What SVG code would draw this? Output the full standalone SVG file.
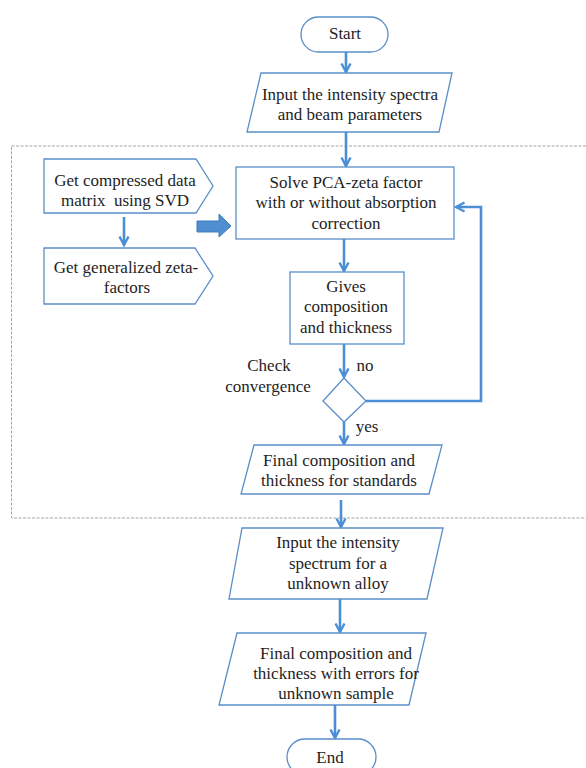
<svg xmlns="http://www.w3.org/2000/svg" width="586" height="768" viewBox="0 0 586 768">
<style>
  .box { fill: #ffffff; stroke: #5b8ec9; stroke-width: 1.3; }
  .t { font-family: 'Liberation Serif', 'DejaVu Serif', serif; font-size: 17px; fill: #1e1e1e; text-anchor: middle; }
  .c { fill: none; stroke: #4a8fd6; stroke-width: 2.6; }
  .dash { fill: none; stroke: #a3a3a3; stroke-width: 1; stroke-dasharray: 3 1.5; }
</style>
<defs>
  <marker id="ah" viewBox="0 0 12 12" refX="10" refY="6" markerWidth="12" markerHeight="12" markerUnits="userSpaceOnUse" orient="auto">
    <path d="M1.5,1.5 L10,6 L1.5,10.5" fill="none" stroke="#4a8fd6" stroke-width="2.4" stroke-linejoin="miter"/>
  </marker>
</defs>
<rect width="586" height="768" fill="#ffffff"/>

<rect class="dash" x="11.5" y="146" width="620" height="372"/>

<g id="connectors">
  <line class="c" x1="346" y1="52" x2="346" y2="72" marker-end="url(#ah)"/>
  <line class="c" x1="346" y1="132" x2="346" y2="166" marker-end="url(#ah)"/>
  <line class="c" x1="124" y1="217" x2="124" y2="245" marker-end="url(#ah)"/>
  <line class="c" x1="344" y1="239" x2="344" y2="271" marker-end="url(#ah)"/>
  <line class="c" x1="344" y1="344" x2="344" y2="377" marker-end="url(#ah)"/>
  <polyline class="c" points="366,401 481,401 481,207 456,207" stroke-width="3" marker-end="url(#ah)"/>
  <line class="c" x1="344" y1="422" x2="344" y2="444" marker-end="url(#ah)"/>
  <line class="c" x1="341" y1="500" x2="341" y2="527" marker-end="url(#ah)"/>
  <line class="c" x1="340" y1="599" x2="340" y2="632" marker-end="url(#ah)"/>
  <line class="c" x1="335" y1="705" x2="335" y2="738" marker-end="url(#ah)"/>
  <polygon points="197,221 219,221 219,214 231,226 219,237 219,232 197,232" fill="#4f8fd0" stroke="#3f7dbf" stroke-width="1"/>
</g>

<g id="start">
  <rect class="box" x="301" y="17" width="87" height="35" rx="17.5"/>
  <text class="t" x="345" y="39" font-family="Liberation Serif">Start</text>
</g>

<g id="input">
  <polygon class="box" points="261,73 452,73 439,132 247,132"/>
  <text class="t" x="350" y="100">Input the intensity spectra</text>
  <text class="t" x="350" y="120">and beam parameters</text>
</g>

<g id="svd">
  <polygon class="box" points="44,159 196,159 213,186 196,213 44,213"/>
  <text class="t" x="125" y="186">Get compressed data</text>
  <text class="t" x="125" y="206" xml:space="preserve">matrix  using SVD</text>
</g>

<g id="zeta">
  <polygon class="box" points="44,248 195,248 213,276 195,304 44,304"/>
  <text class="t" x="126" y="273">Get generalized zeta-</text>
  <text class="t" x="127" y="293">factors</text>
</g>

<g id="solve">
  <rect class="box" x="236" y="167" width="218" height="72"/>
  <text class="t" x="346" y="188">Solve PCA-zeta factor</text>
  <text class="t" x="346" y="208">with or without absorption</text>
  <text class="t" x="346" y="229">correction</text>
</g>

<g id="gives">
  <rect class="box" x="290" y="272" width="114" height="72"/>
  <text class="t" x="346" y="292">Gives</text>
  <text class="t" x="346" y="312">composition</text>
  <text class="t" x="346" y="333">and thickness</text>
</g>

<g id="check">
  <polygon class="box" points="344,378 366,401 344,422 323,401"/>
  <text class="t" x="269" y="371">Check</text>
  <text class="t" x="268" y="392">convergence</text>
  <text class="t" x="365" y="371">no</text>
  <text class="t" x="367" y="432">yes</text>
</g>

<g id="standards">
  <polygon class="box" points="254,445 442,445 429,494 241,494"/>
  <text class="t" x="339" y="466">Final composition and</text>
  <text class="t" x="339" y="486">thickness for standards</text>
</g>

<g id="unknown">
  <polygon class="box" points="242,528 443,528 427,599 229,599"/>
  <text class="t" x="338" y="548">Input the intensity</text>
  <text class="t" x="338" y="569">spectrum for a</text>
  <text class="t" x="338" y="589">unknown alloy</text>
</g>

<g id="final">
  <polygon class="box" points="237,633 426,633 409,705 219,705"/>
  <text class="t" x="336" y="659">Final composition and</text>
  <text class="t" x="336" y="679">thickness with errors for</text>
  <text class="t" x="336" y="699">unknown sample</text>
</g>

<g id="end">
  <rect class="box" x="287" y="739" width="89" height="36" rx="18"/>
  <text class="t" x="330" y="763">End</text>
</g>
</svg>
